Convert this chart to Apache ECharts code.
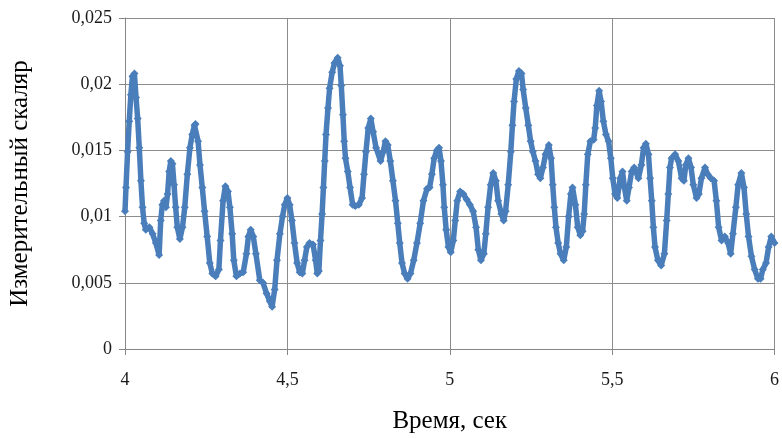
<!DOCTYPE html>
<html>
<head>
<meta charset="utf-8">
<script src="https://cdn.jsdelivr.net/npm/echarts@6/dist/echarts.min.js"></script>
<style>html,body{margin:0;padding:0;background:#fff}#c{width:782px;height:439px}</style>
</head>
<body>
<div id="c"></div>
<script>
const xAxisTitle = 'Время, сек';
const yAxisTitle = 'Измерительный скаляр';
const xTicks = [4, 4.5, 5, 5.5, 6];
const yTicks = [0, 0.005, 0.01, 0.015, 0.02, 0.025];

const times = [
4.000,4.003,4.008,4.013,4.018,4.023,4.029,4.034,4.039,4.044,4.049,4.054,4.059,4.064,4.075,4.085,4.095,4.105,4.110,4.115,
4.120,4.126,4.131,4.136,4.141,4.146,4.151,4.156,4.161,4.169,4.177,4.184,4.192,4.200,4.207,4.214,4.217,4.225,4.231,4.238,
4.245,4.253,4.261,4.269,4.279,4.289,4.294,4.302,4.309,4.317,4.323,4.330,4.335,4.343,4.354,4.364,4.374,4.380,4.387,4.395,
4.403,4.415,4.425,4.436,4.446,4.453,4.461,4.468,4.477,4.485,4.492,4.500,4.507,4.514,4.522,4.530,4.538,4.546,4.553,4.560,
4.568,4.579,4.587,4.592,4.597,4.602,4.607,4.611,4.615,4.619,4.625,4.630,4.638,4.645,4.655,4.662,4.666,4.671,4.675,4.679,
4.686,4.693,4.701,4.709,4.720,4.730,4.736,4.742,4.749,4.757,4.764,4.773,4.787,4.795,4.802,4.809,4.817,4.825,4.833,4.840,
4.846,4.853,4.861,4.870,4.879,4.889,4.899,4.909,4.919,4.930,4.938,4.945,4.952,4.960,4.967,4.973,4.979,4.983,4.989,4.996,
5.003,5.011,5.017,5.023,5.032,5.042,5.052,5.062,5.072,5.081,5.088,5.096,5.105,5.111,5.118,5.126,5.134,5.142,5.149,5.159,
5.166,5.172,5.180,5.188,5.193,5.198,5.205,5.213,5.221,5.226,5.234,5.242,5.249,5.256,5.264,5.272,5.279,5.287,5.295,5.305,
5.312,5.317,5.322,5.327,5.334,5.341,5.351,5.359,5.366,5.373,5.378,5.387,5.394,5.402,5.409,5.414,5.419,5.425,5.433,5.443,
5.448,5.453,5.460,5.466,5.473,5.481,5.489,5.496,5.502,5.509,5.516,5.525,5.532,5.538,5.545,5.552,5.560,5.568,5.581,5.590,
5.597,5.604,5.612,5.617,5.622,5.627,5.632,5.641,5.651,5.661,5.668,5.673,5.678,5.683,5.694,5.704,5.714,5.721,5.727,5.735,
5.743,5.750,5.760,5.767,5.775,5.786,5.794,5.804,5.814,5.821,5.828,5.837,5.847,5.857,5.865,5.872,5.881,5.888,5.898,5.906,
5.913,5.920,5.929,5.939,5.949,5.957,5.964,5.974,5.982,5.990,6.000
];
const values = [
0.0104,0.0122,0.0149,0.0172,0.0192,0.0206,0.0208,0.0190,0.0174,0.0152,0.0127,0.0107,0.0095,0.0090,0.0092,0.0087,0.0080,0.0071,0.0097,0.0109,
0.0112,0.0107,0.0117,0.0134,0.0142,0.0140,0.0124,0.0107,0.0092,0.0083,0.0092,0.0107,0.0132,0.0152,0.0162,0.0169,0.0170,0.0157,0.0139,0.0122,
0.0104,0.0085,0.0065,0.0057,0.0055,0.0060,0.0082,0.0112,0.0123,0.0119,0.0107,0.0087,0.0067,0.0055,0.0057,0.0058,0.0072,0.0085,0.0090,0.0085,
0.0072,0.0052,0.0050,0.0042,0.0036,0.0032,0.0045,0.0067,0.0087,0.0100,0.0109,0.0114,0.0109,0.0097,0.0080,0.0065,0.0058,0.0057,0.0067,0.0077,
0.0080,0.0079,0.0067,0.0057,0.0059,0.0082,0.0102,0.0122,0.0142,0.0162,0.0182,0.0197,0.0209,0.0216,0.0220,0.0214,0.0199,0.0177,0.0157,0.0144,
0.0134,0.0122,0.0109,0.0108,0.0109,0.0114,0.0132,0.0149,0.0167,0.0174,0.0164,0.0152,0.0142,0.0149,0.0157,0.0154,0.0142,0.0127,0.0112,0.0095,
0.0080,0.0065,0.0057,0.0053,0.0057,0.0067,0.0080,0.0095,0.0112,0.0121,0.0122,0.0132,0.0144,0.0150,0.0152,0.0142,0.0124,0.0107,0.0090,0.0077,
0.0073,0.0082,0.0097,0.0112,0.0119,0.0117,0.0113,0.0109,0.0104,0.0092,0.0075,0.0067,0.0072,0.0087,0.0107,0.0124,0.0133,0.0127,0.0112,0.0102,
0.0097,0.0104,0.0124,0.0149,0.0169,0.0187,0.0204,0.0210,0.0208,0.0196,0.0182,0.0169,0.0157,0.0149,0.0142,0.0132,0.0129,0.0137,0.0147,0.0154,
0.0144,0.0124,0.0107,0.0092,0.0080,0.0072,0.0067,0.0077,0.0100,0.0117,0.0122,0.0109,0.0092,0.0086,0.0089,0.0102,0.0124,0.0147,0.0157,0.0158,
0.0167,0.0184,0.0195,0.0187,0.0172,0.0162,0.0157,0.0144,0.0129,0.0117,0.0114,0.0129,0.0134,0.0122,0.0112,0.0122,0.0134,0.0137,0.0129,0.0139,
0.0152,0.0155,0.0147,0.0129,0.0112,0.0092,0.0077,0.0067,0.0063,0.0072,0.0097,0.0117,0.0137,0.0144,0.0147,0.0142,0.0129,0.0127,0.0139,0.0144,
0.0137,0.0124,0.0114,0.0117,0.0129,0.0137,0.0132,0.0129,0.0127,0.0112,0.0092,0.0082,0.0085,0.0080,0.0072,0.0087,0.0107,0.0124,0.0133,0.0122,
0.0102,0.0085,0.0070,0.0060,0.0053,0.0053,0.0060,0.0065,0.0077,0.0085,0.0080
];

const seriesData = times.map((t, i) => [t, values[i]]);
const fmt = v => String(v).replace('.', ',');
const serif = '"Liberation Serif", "Times New Roman", serif';
const markColor = '#4a7ebb';

const chart = echarts.init(document.getElementById('c'));
chart.setOption({
  animation: false,
  backgroundColor: '#ffffff',
  grid: { left: 124, right: 5, top: 18, bottom: 86, containLabel: false },
  xAxis: {
    type: 'value',
    min: xTicks[0], max: xTicks[xTicks.length - 1], interval: 0.5,
    name: xAxisTitle, nameLocation: 'middle', nameGap: 60,
    nameTextStyle: { fontFamily: serif, fontSize: 25, color: '#000' },
    axisLine: { show: true, lineStyle: { color: '#868686', width: 1 } },
    axisTick: { show: true, length: 6, lineStyle: { color: '#868686' } },
    axisLabel: { margin: 22, fontFamily: serif, fontSize: 18, color: '#1a1a1a', formatter: fmt },
    splitLine: { show: true, lineStyle: { color: '#8c8c8c', width: 1 } }
  },
  yAxis: {
    type: 'value',
    min: yTicks[0], max: yTicks[yTicks.length - 1], interval: 0.005,
    name: yAxisTitle, nameLocation: 'middle', nameGap: 92,
    nameTextStyle: { fontFamily: serif, fontSize: 25, color: '#000' },
    axisLine: { show: true, lineStyle: { color: '#868686', width: 1 } },
    axisTick: { show: true, length: 6, lineStyle: { color: '#868686' } },
    axisLabel: { margin: 13, fontFamily: serif, fontSize: 18, color: '#1a1a1a', formatter: fmt },
    splitLine: { show: true, lineStyle: { color: '#8c8c8c', width: 1 } }
  },
  series: [{
    type: 'line',
    data: seriesData,
    showAllSymbol: true,
    symbol: 'diamond',
    symbolSize: 8,
    lineStyle: { color: markColor, width: 5.5 },
    itemStyle: { color: markColor, borderWidth: 0 },
    clip: false
  }]
});
</script>
</body>
</html>
